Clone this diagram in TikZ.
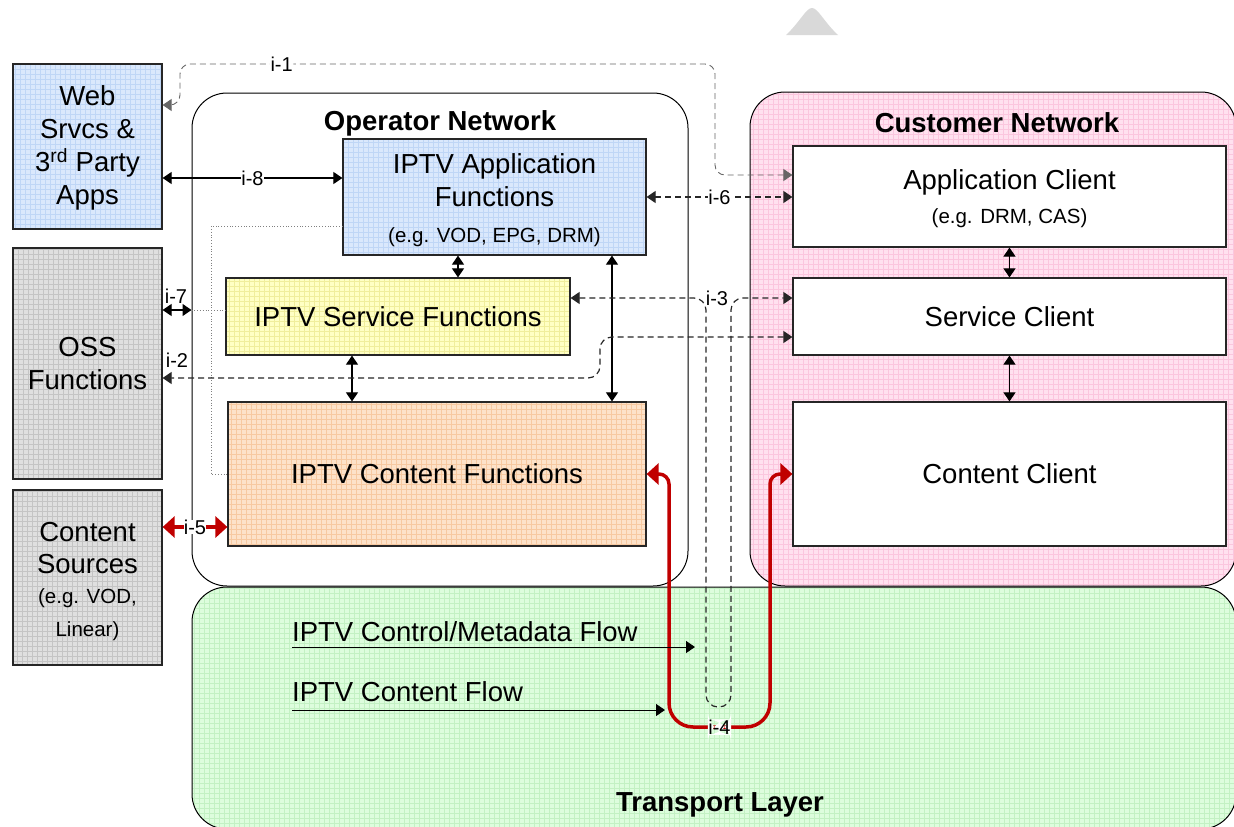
\documentclass[tikz,border=0pt]{standalone}
\usepackage{fontspec}
\setmainfont{Liberation Sans}
\usetikzlibrary{arrows.meta}

\definecolor{webfill}{HTML}{DAE8FC}
\definecolor{webgrid}{HTML}{BFD6F6}
\definecolor{ossfill}{HTML}{DFDFDF}
\definecolor{ossgrid}{HTML}{C4C4C4}
\definecolor{svcfill}{HTML}{FFFFC4}
\definecolor{svcgrid}{HTML}{F0EE9C}
\definecolor{cntfill}{HTML}{FDE2C9}
\definecolor{cntgrid}{HTML}{F7C9A1}
\definecolor{cusfill}{HTML}{FFE1EF}
\definecolor{cusgrid}{HTML}{FBC6DE}
\definecolor{trfill}{HTML}{DDFDDD}
\definecolor{trgrid}{HTML}{C3F1C3}
\definecolor{flowred}{HTML}{C00000}

\tikzset{
  blk/.tip={Triangle[length=9pt,width=12pt]},
  redtip/.tip={Triangle[length=12pt,width=21pt]},
  gridded/.style 2 args={fill=#1,path picture={\draw[#2,line width=0.4pt,step=5pt] (path picture bounding box.south west) grid (path picture bounding box.north east);}},
  fnbox/.style={draw=black!85,line width=1.2pt,inner sep=0pt,align=center,font=\fontsize{27.5}{33}\selectfont},
  netbox/.style={draw,line width=1pt,rounded corners=35pt,inner sep=0pt},
  nettitle/.style={font=\bfseries\fontsize{27.5}{30}\selectfont},
  flowtext/.style={anchor=west,inner sep=0pt,font=\fontsize{27.5}{33}\selectfont},
  ilabel/.style={inner sep=0.5pt,text=black,font=\fontsize{20}{22}\selectfont},
  onwire/.style={ilabel,fill=white},
  solidlink/.style={line width=1.1pt,blk-blk},
  dashlink/.style={black!85,line width=1.2pt,dash pattern=on 6pt off 4pt},
  dotlink/.style={black!50,line width=0.8pt,dotted},
  redlink/.style={flowred,line width=3.5pt,redtip-redtip}
}
\newcommand{\egtext}[1]{{\fontsize{20.5}{24}\selectfont #1}}

\begin{document}
\begin{tikzpicture}[x=1pt,y=-1pt]
\useasboundingbox (0,0) rectangle (1234,827);
\fill[black!15] (786,35) .. controls (800,22) and (806,8) .. (812,8) .. controls (818,8) and (824,22) .. (838,35) -- cycle;

\node[netbox,gridded={trfill}{trgrid},minimum width=1044,minimum height=242] (transport) at (714,708) {};
\node[netbox,fill=white,minimum width=496,minimum height=493] (opnet) at (440,339.5) {};
\node[netbox,gridded={cusfill}{cusgrid},minimum width=486,minimum height=494] (cusnet) at (993,339) {};

\node[nettitle] (opname) at (440,123) {Operator Network};
\node[nettitle] (cusname) at (997,123) {Customer Network};
\node[nettitle] (trname) at (720,805) {Transport Layer};

\node[fnbox,gridded={webfill}{webgrid},minimum width=149,minimum height=165] (web) at (87.5,146.5) {\rule{0pt}{22pt}Web\\Srvcs \&\\3\textsuperscript{rd} Party\\Apps};
\node[fnbox,gridded={ossfill}{ossgrid},minimum width=149,minimum height=231] (oss) at (87.5,363.5) {OSS\\Functions};
\node[fnbox,gridded={ossfill}{ossgrid},minimum width=149,minimum height=175] (src) at (87.5,577.5) {\rule{0pt}{27.5pt}Content\\[-1pt]Sources\\[-3pt]\egtext{(e.g. VOD,}\\\egtext{Linear)}};

\node[fnbox,gridded={webfill}{webgrid},minimum width=303,minimum height=116] (app) at (494.5,197) {\rule{0pt}{25.5pt}IPTV Application\\Functions\\[3pt]\egtext{(e.g. VOD, EPG, DRM)}};
\node[fnbox,gridded={svcfill}{svcgrid},minimum width=344,minimum height=77] (svc) at (398,316.5) {IPTV Service Functions};
\node[fnbox,gridded={cntfill}{cntgrid},minimum width=418,minimum height=144] (cnt) at (437,474) {IPTV Content Functions};

\node[fnbox,fill=white,minimum width=433,minimum height=101] (appc) at (1009.5,196.5) {\rule{0pt}{23.5pt}Application Client\\[1pt]\egtext{(e.g. DRM, CAS)}};
\node[fnbox,fill=white,minimum width=433,minimum height=77] (svcc) at (1009.5,316.5) {Service Client};
\node[fnbox,fill=white,minimum width=433,minimum height=144] (cntc) at (1009.5,474) {Content Client};

\draw[dotlink] (app.west |- 0,226) -- (211,226) -- (211,474) -- (cnt.west);
\draw[dotlink] (opnet.west |- 0,310) -- (svc.west |- 0,310);

\draw[solidlink] (web.east |- 0,178) -- node[onwire] (lab8) {i-8} (app.west |- 0,178);
\draw[solidlink] (oss.east |- 0,310) -- (opnet.west |- 0,310);
\node[ilabel] (lab7) at (176,296) {i-7};
\draw[solidlink] (458,0 |- app.south) -- (458,0 |- svc.north);
\draw[solidlink] (612,0 |- app.south) -- (612,0 |- cnt.north);
\draw[solidlink] (352,0 |- svc.south) -- (352,0 |- cnt.north);
\draw[solidlink] (appc.south) -- (svcc.north);
\draw[solidlink] (svcc.south) -- (cntc.north);

\draw[dashlink,black!60,line width=0.9pt,blk-blk,rounded corners=10pt] (appc.west |- 0,175) -- (715,175) -- (715,64) -- node[onwire,pos=0.81] (lab1) {i-1} (180,64) -- (180,105) -- (web.east |- 0,105);
\draw[dashlink,blk-blk] (app.east) -- node[onwire] (lab6) {i-6} (app.east -| appc.west);
\draw[dashlink,blk-blk,rounded corners=12pt] (svc.east |- 0,298) -- (706,298) -- (706,707) -- (731,707) -- (731,298) -- (svcc.west |- 0,298);
\node[onwire] (lab3) at (717,298) {i-3};
\draw[dashlink,blk-blk,rounded corners=12pt] (svcc.west |- 0,337) -- (600,337) -- (600,378) -- (oss.east |- 0,378);
\node[ilabel] (lab2) at (177,360) {i-2};

\draw[redlink] (src.east |- 0,527) -- node[onwire,inner sep=0pt] (lab5) {i-5} (cnt.west |- 0,527);
\draw[redlink] (cnt.east) [rounded corners=10pt] -- (669,474) [rounded corners=24pt] -- (669,727) -- node[onwire] (lab4) {i-4} (770,727) [rounded corners=10pt] -- (770,474) -- (cntc.west);

\node[flowtext] (ctrlflow) at (292,632) {IPTV Control/Metadata Flow};
\node[flowtext] (cflow) at (292,692) {IPTV Content Flow};
\coordinate (ctrlend) at (695,647);
\coordinate (cend) at (665,710);
\draw[line width=1pt,-blk] (ctrlflow.west |- ctrlend) -- (ctrlend);
\draw[line width=1pt,-blk] (cflow.west |- cend) -- (cend);
\end{tikzpicture}
\end{document}
